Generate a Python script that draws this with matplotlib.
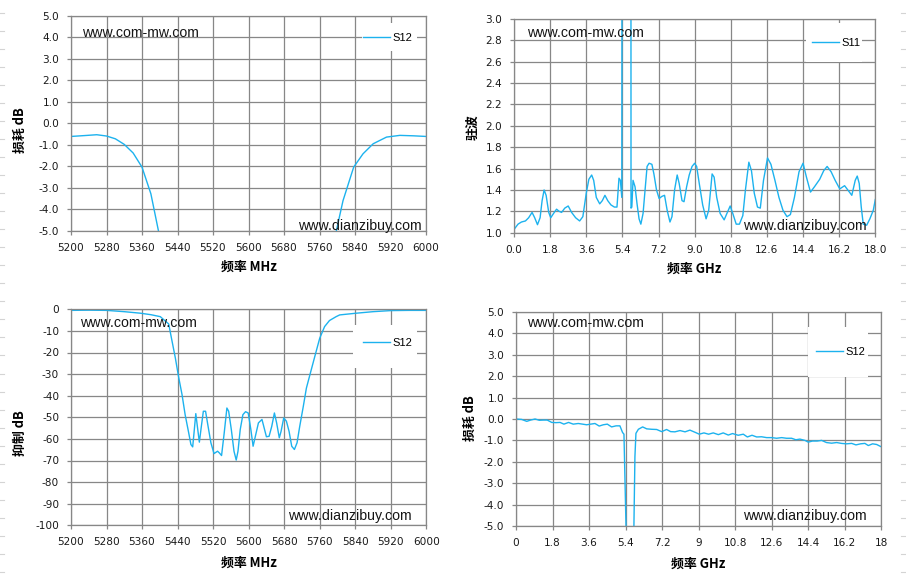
import matplotlib
matplotlib.use("Agg")
import matplotlib.pyplot as plt
from matplotlib.patches import Rectangle
from matplotlib.lines import Line2D

# ---------------- data ----------------
# Panel 1: S12 insertion loss, MHz
p1_freq = [5200, 5230, 5258, 5280, 5300, 5320, 5340, 5360, 5380, 5397, 5405,
           5790, 5798, 5813, 5837, 5858, 5881, 5911, 5941, 5971, 6000]
p1_s12 = [-0.61, -0.57, -0.53, -0.59, -0.72, -0.98, -1.38, -2.04, -3.28, -5.0, -5.8,
          -5.75, -5.0, -3.6, -2.04, -1.42, -0.95, -0.64, -0.56, -0.58, -0.61]

# Panel 2: S11 VSWR, GHz
p2_freq = [0.0, 0.2, 0.37, 0.57, 0.73, 0.9, 1.03, 1.17, 1.3, 1.4, 1.5, 1.6, 1.73, 1.83,
           1.97, 2.12, 2.25, 2.37, 2.53, 2.7, 2.87, 3.07, 3.27, 3.43, 3.6, 3.73, 3.87,
           3.97, 4.1, 4.27, 4.4, 4.53, 4.67, 4.83, 5.0, 5.13, 5.23, 5.3, 5.37, 5.40,
           5.82, 5.83, 5.87, 5.93, 6.03, 6.13, 6.23, 6.32, 6.43, 6.53, 6.63, 6.73, 6.87,
           6.97, 7.1, 7.23, 7.37, 7.5, 7.63, 7.77, 7.87, 8.0, 8.13, 8.23, 8.37, 8.47,
           8.6, 8.73, 8.87, 9.0, 9.1, 9.23, 9.4, 9.57, 9.7, 9.87, 9.97, 10.1, 10.27,
           10.47, 10.63, 10.77, 10.9, 11.07, 11.23, 11.4, 11.53, 11.7, 11.83, 11.97,
           12.13, 12.27, 12.43, 12.63, 12.8, 13.0, 13.2, 13.4, 13.6, 13.77, 13.97,
           14.2, 14.4, 14.57, 14.77, 14.97, 15.23, 15.43, 15.6, 15.8, 16.0, 16.23,
           16.47, 16.63, 16.83, 17.0, 17.1, 17.2, 17.3, 17.4, 17.57, 17.73, 17.9, 18.0]
p2_s11 = [1.03, 1.08, 1.10, 1.11, 1.14, 1.19, 1.14, 1.075, 1.14, 1.30, 1.40, 1.35, 1.19,
          1.14, 1.18, 1.22, 1.20, 1.19, 1.23, 1.25, 1.19, 1.14, 1.11, 1.15, 1.37, 1.50,
          1.54, 1.49, 1.33, 1.27, 1.30, 1.35, 1.30, 1.26, 1.24, 1.24, 1.51, 1.49, 1.33,
          8.0, 8.0, 1.23, 1.24, 1.49, 1.43, 1.27, 1.13, 1.08, 1.18, 1.40, 1.62, 1.65,
          1.64, 1.55, 1.40, 1.32, 1.34, 1.35, 1.21, 1.10, 1.15, 1.40, 1.54, 1.46, 1.30,
          1.29, 1.43, 1.54, 1.62, 1.65, 1.62, 1.46, 1.26, 1.13, 1.21, 1.55, 1.52, 1.33,
          1.18, 1.12, 1.19, 1.25, 1.18, 1.08, 1.08, 1.16, 1.40, 1.66, 1.58, 1.37, 1.24,
          1.23, 1.49, 1.70, 1.64, 1.49, 1.33, 1.21, 1.15, 1.17, 1.33, 1.57, 1.65, 1.52,
          1.38, 1.43, 1.50, 1.58, 1.62, 1.57, 1.49, 1.41, 1.44, 1.40, 1.35, 1.49, 1.53,
          1.46, 1.24, 1.08, 1.07, 1.13, 1.21, 1.31]

# Panel 3: S12 rejection, MHz
p3_freq = [5200, 5240, 5280, 5320, 5356, 5380, 5401, 5420, 5427, 5435, 5442, 5450,
           5457, 5465, 5470, 5474, 5477, 5481, 5485, 5489, 5493, 5498, 5503, 5508,
           5515, 5522, 5530, 5534, 5539, 5545, 5551, 5555, 5561, 5567, 5572, 5576,
           5581, 5587, 5593, 5599, 5605, 5610, 5616, 5622, 5630, 5634, 5640, 5646,
           5652, 5658, 5663, 5669, 5673, 5679, 5685, 5691, 5697, 5703, 5709, 5715,
           5723, 5730, 5739, 5749, 5760, 5771, 5782, 5797, 5805, 5840, 5880, 5920,
           5960, 6000]
p3_s12 = [-0.5, -0.4, -0.5, -1.1, -1.8, -2.5, -3.4, -6.8, -14.2, -22.6, -31.0, -39.5,
          -48.8, -57.2, -62.6, -63.7, -57.2, -48.3, -55.0, -61.5, -55.0, -47.2, -47.2,
          -53.4, -61.8, -66.8, -65.7, -66.5, -67.7, -57.2, -45.7, -47.2, -55.7, -65.7,
          -69.8, -65.7, -55.7, -48.8, -47.4, -48.0, -55.7, -63.4, -58.0, -52.6, -51.0,
          -54.2, -59.0, -58.8, -54.2, -48.0, -52.6, -59.5, -56.5, -50.3, -51.8, -56.5,
          -63.4, -64.9, -61.8, -54.2, -45.0, -36.5, -29.5, -21.8, -13.4, -8.0, -5.2,
          -3.4, -2.6, -1.85, -1.1, -0.6, -0.5, -0.5]

# Panel 4: S12 insertion loss, GHz
p4_freq = [0.0, 0.28, 0.53, 0.72, 0.94, 1.15, 1.35, 1.54, 1.76, 1.97, 2.17, 2.36, 2.59,
           2.82, 3.07, 3.28, 3.48, 3.68, 3.89, 4.1, 4.3, 4.5, 4.71, 4.93, 5.12, 5.25,
           5.32, 5.42, 5.45, 5.78, 5.81, 5.86, 5.91, 6.03, 6.24, 6.44, 6.68, 6.93,
           7.18, 7.42, 7.62, 7.83, 8.08, 8.33, 8.57, 8.82, 9.03, 9.26, 9.49, 9.72,
           9.97, 10.21, 10.46, 10.67, 10.95, 11.2, 11.4, 11.63, 11.86, 12.1, 12.35,
           12.6, 12.84, 13.09, 13.33, 13.58, 13.79, 13.99, 14.24, 14.4, 14.61, 14.84,
           15.06, 15.3, 15.55, 15.8, 16.04, 16.29, 16.54, 16.75, 16.98, 17.19, 17.36,
           17.57, 17.77, 18.0]
p4_s12 = [0.0, -0.02, -0.11, -0.05, 0.0, -0.06, -0.05, -0.05, -0.16, -0.17, -0.16,
          -0.24, -0.16, -0.24, -0.21, -0.24, -0.27, -0.24, -0.21, -0.33, -0.27, -0.24,
          -0.37, -0.32, -0.32, -0.63, -0.71, -5.0, -7.0, -7.0, -5.0, -1.76, -0.67,
          -0.48, -0.37, -0.46, -0.48, -0.49, -0.59, -0.49, -0.59, -0.60, -0.54, -0.60,
          -0.52, -0.62, -0.71, -0.65, -0.71, -0.65, -0.73, -0.65, -0.75, -0.68, -0.76,
          -0.71, -0.84, -0.76, -0.84, -0.83, -0.87, -0.87, -0.90, -0.87, -0.90, -0.90,
          -0.97, -0.94, -1.0, -1.08, -1.03, -1.03, -1.0, -1.10, -1.13, -1.10, -1.14,
          -1.16, -1.14, -1.21, -1.16, -1.14, -1.24, -1.16, -1.19, -1.30]

# ticks
mhz_ticks = [5200, 5280, 5360, 5440, 5520, 5600, 5680, 5760, 5840, 5920, 6000]
mhz_labels = ["5200", "5280", "5360", "5440", "5520", "5600", "5680", "5760", "5840", "5920", "6000"]
ghz_ticks = [0, 1.8, 3.6, 5.4, 7.2, 9.0, 10.8, 12.6, 14.4, 16.2, 18.0]
ghz_labels_a = ["0.0", "1.8", "3.6", "5.4", "7.2", "9.0", "10.8", "12.6", "14.4", "16.2", "18.0"]
ghz_labels_b = ["0", "1.8", "3.6", "5.4", "7.2", "9", "10.8", "12.6", "14.4", "16.2", "18"]
db5_ticks = [5, 4, 3, 2, 1, 0, -1, -2, -3, -4, -5]
db5_labels = ["5.0", "4.0", "3.0", "2.0", "1.0", "0.0", "-1.0", "-2.0", "-3.0", "-4.0", "-5.0"]
vswr_ticks = [1.0, 1.2, 1.4, 1.6, 1.8, 2.0, 2.2, 2.4, 2.6, 2.8, 3.0]
vswr_labels = ["1.0", "1.2", "1.4", "1.6", "1.8", "2.0", "2.2", "2.4", "2.6", "2.8", "3.0"]
rej_ticks = [0, -10, -20, -30, -40, -50, -60, -70, -80, -90, -100]
rej_labels = ["0", "-10", "-20", "-30", "-40", "-50", "-60", "-70", "-80", "-90", "-100"]

# ---------------- figure ----------------
W, H = 906, 581
fig = plt.figure(figsize=(W / 100, H / 100), dpi=100)
fig.patch.set_facecolor("white")

LINE_C = "#1CB2EE"
GRID_C = "#878787"
CJK = ["Noto Sans CJK SC", "DejaVu Sans"]
WM = "Liberation Sans"


def fx(x):
    return x / W


def fy(y):
    return 1 - y / H


def make_axes(l, t, r, b):
    return fig.add_axes([fx(l), fy(b), (r - l) / W, (b - t) / H])


def style(ax, xlim, ylim, xt, xl, yt, yl):
    ax.set_xlim(*xlim)
    ax.set_ylim(*ylim)
    ax.set_xticks(xt)
    ax.set_xticklabels(xl)
    ax.set_yticks(yt)
    ax.set_yticklabels(yl)
    ax.set_axisbelow(True)
    ax.grid(True, color=GRID_C, lw=0.9)
    for s in ax.spines.values():
        s.set_color(GRID_C)
        s.set_linewidth(0.9)
    ax.tick_params(direction="out", length=3, width=0.9, color=GRID_C,
                   labelsize=7.6, labelcolor="#1a1a1a", pad=5.5)


def legend_box(ax, l, t, r, b, label, lx, ly):
    ax.add_patch(Rectangle((fx(l), fy(b)), (r - l) / W, (b - t) / H,
                           transform=fig.transFigure, facecolor="white",
                           edgecolor="none", zorder=1.5))
    ax.legend([Line2D([0], [0], color=LINE_C, lw=1.0)], [label],
              loc="center left", bbox_to_anchor=(fx(lx), fy(ly)),
              bbox_transform=fig.transFigure, frameon=False,
              prop={"family": WM, "size": 8}, handlelength=2.45,
              handletextpad=0.2, borderpad=0, borderaxespad=0)


def watermarks(x1, y1, x2, y2):
    fig.text(fx(x1), fy(y1), "www.com-mw.com", family=WM, fontsize=10.2,
             color="#141414", ha="left", va="center")
    fig.text(fx(x2), fy(y2), "www.dianzibuy.com", family=WM, fontsize=10.2,
             color="#141414", ha="left", va="center")


# Panel 1
ax1 = make_axes(71, 16, 426, 230.7)
ax1.plot(p1_freq, p1_s12, color=LINE_C, lw=1.0, zorder=2)
style(ax1, (5200, 6000), (-5, 5), mhz_ticks, mhz_labels, db5_ticks, db5_labels)
legend_box(ax1, 362, 23, 417, 51, "S12", 363, 37.7)
watermarks(82, 33, 298, 226)
fig.text(fx(248.5), fy(267), "频率 MHz", family=CJK, weight="bold", fontsize=9.3,
         ha="center", va="center")
fig.text(fx(20), fy(130), "损耗 dB", family=CJK, weight="bold", fontsize=9.3,
         ha="center", va="center", rotation=90)

# Panel 2
ax2 = make_axes(514, 19, 875.3, 232.7)
ax2.plot(p2_freq, p2_s11, color=LINE_C, lw=1.0, zorder=2)
style(ax2, (0, 18), (1.0, 3.0), ghz_ticks, ghz_labels_a, vswr_ticks, vswr_labels)
legend_box(ax2, 806, 23, 862, 62, "S11", 812, 43)
watermarks(527, 33, 743, 226)
fig.text(fx(694.5), fy(269), "频率 GHz", family=CJK, weight="bold", fontsize=9.3,
         ha="center", va="center")
fig.text(fx(473), fy(127), "驻波", family=CJK, weight="bold", fontsize=9.3,
         ha="center", va="center", rotation=90)

# Panel 3
ax3 = make_axes(71, 309.3, 426.3, 525.3)
ax3.plot(p3_freq, p3_s12, color=LINE_C, lw=1.0, zorder=2)
style(ax3, (5200, 6000), (-100, 0), mhz_ticks, mhz_labels, rej_ticks, rej_labels)
legend_box(ax3, 353, 325, 417, 368, "S12", 363, 343)
watermarks(80, 323, 288, 516)
fig.text(fx(248.5), fy(563), "频率 MHz", family=CJK, weight="bold", fontsize=9.3,
         ha="center", va="center")
fig.text(fx(20), fy(433), "抑制 dB", family=CJK, weight="bold", fontsize=9.3,
         ha="center", va="center", rotation=90)

# Panel 4
ax4 = make_axes(516, 312, 881.3, 526)
ax4.plot(p4_freq, p4_s12, color=LINE_C, lw=1.0, zorder=2)
style(ax4, (0, 18), (-5, 5), ghz_ticks, ghz_labels_b, db5_ticks, db5_labels)
legend_box(ax4, 808, 327, 868, 377, "S12", 816, 352)
watermarks(527, 323, 743, 516)
fig.text(fx(698.5), fy(564), "频率 GHz", family=CJK, weight="bold", fontsize=9.3,
         ha="center", va="center")
fig.text(fx(470), fy(418), "损耗 dB", family=CJK, weight="bold", fontsize=9.3,
         ha="center", va="center", rotation=90)

# faint spreadsheet row lines peeking at the edges
k = 0
while True:
    yy = 12.7 + 18.04 * k
    if yy > H:
        break
    fig.add_artist(Line2D([0, fx(4)], [fy(yy), fy(yy)], transform=fig.transFigure,
                          color="#d4d4d4", lw=0.8))
    fig.add_artist(Line2D([fx(901), 1], [fy(yy), fy(yy)], transform=fig.transFigure,
                          color="#d4d4d4", lw=0.8))
    k += 1

fig.savefig("out.png", dpi=100, facecolor="white")
